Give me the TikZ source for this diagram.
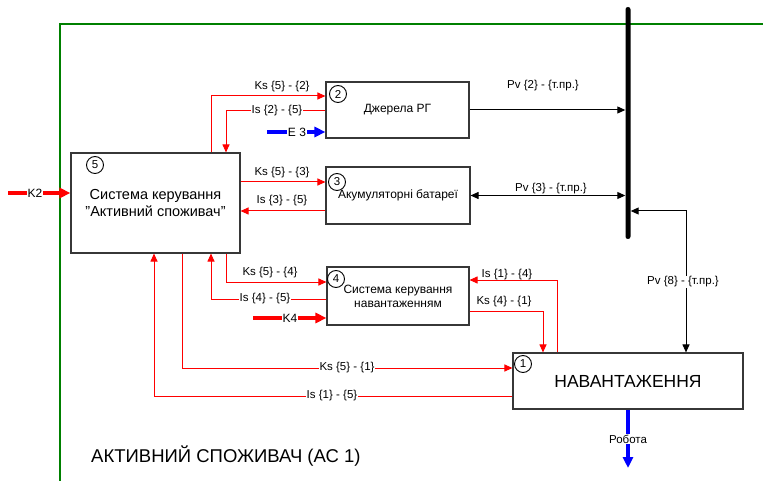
\documentclass[tikz,border=0pt]{standalone}
\usepackage{fontspec}
\setmainfont{Liberation Sans}
\usetikzlibrary{arrows.meta}
\definecolor{frameg}{RGB}{0,128,0}
\definecolor{boxc}{RGB}{55,55,55}
\begin{document}
\begin{tikzpicture}[x=1pt,y=-1pt,
  box/.style={draw=boxc, line width=1.1pt, inner sep=0pt, align=center, font=\fontsize{12}{14}\selectfont},
  num/.style={draw=black, circle, line width=0.9pt, minimum size=17pt, inner sep=0pt, font=\fontsize{11.5}{12}\selectfont},
  tipa/.style={-{Triangle[length=8pt,width=7pt]}},
  sig/.style={draw=red, line width=1pt},
  pw/.style={draw=black, line width=1pt},
  heavyred/.style={draw=red, line width=3.5pt, -{Triangle[length=11pt,width=10pt]}},
  heavyblue/.style={draw=blue, line width=3.5pt, -{Triangle[length=11pt,width=10pt]}},
  lab/.style={font=\fontsize{11.5}{13}\selectfont, inner sep=1pt},
  onl/.style={lab, fill=white}
]
\useasboundingbox (0,0) rectangle (763,481);
% frame
\draw[frameg, line width=2pt] (60,481) -- (60,24) -- (763,24);
% bus
\node[fill=black, minimum width=5pt, minimum height=232pt, inner sep=0pt, rounded corners=2.4pt] (bus) at (628,123) {};
% boxes
\node[box, minimum width=169pt, minimum height=100pt, font=\fontsize{14.5}{17}\selectfont] (b5) at (155.5,203) {Система керування\\"Активний споживач"};
\node[box, minimum width=143pt, minimum height=56pt] (b2) at (397.5,110) {Джерела РГ};
\node[box, minimum width=144pt, minimum height=57pt] (b3) at (398,195.5) {Акумуляторні батареї};
\node[box, minimum width=142pt, minimum height=58pt] (b4) at (398,296) {Система керування\\навантаженням};
\node[box, minimum width=230pt, minimum height=56pt, font=\fontsize{17.5}{20}\selectfont] (b1) at (628,381) {НАВАНТАЖЕННЯ};
% numbers
\node[num] (n5) at (95,165) {5};
\node[num] (n2) at (338,94) {2};
\node[num] (n3) at (337,182) {3};
\node[num] (n4) at (336,279) {4};
\node[num] (n1) at (523,364) {1};
% bend coordinates
\coordinate (k52) at (211,96);
\coordinate (i25) at (226,111);
\coordinate (k53) at (282,182);
\coordinate (i35) at (282,211);
\coordinate (k54) at (226,282);
\coordinate (i45) at (211,299);
\coordinate (k51) at (182,368);
\coordinate (i15) at (154,396);
\coordinate (i14) at (557,280);
\coordinate (k41) at (543,311);
\coordinate (c8) at (686,211);
\coordinate (k2) at (8,193);
\coordinate (e3) at (267,132);
\coordinate (k4) at (253,318);
\coordinate (rob) at (628,468);
% red signal connectors
\draw[sig,tipa] (k52 |- b5.north) |- (k52 -| b2.west);
\draw[sig,tipa] (i25 -| b2.west) -| (i25 |- b5.north);
\draw[sig,tipa] (k53 -| b5.east) -- (k53 -| b3.west);
\draw[sig,tipa] (i35 -| b3.west) -- (i35 -| b5.east);
\draw[sig,tipa] (k54 |- b5.south) |- (k54 -| b4.west);
\draw[sig,tipa] (i45 -| b4.west) -| (i45 |- b5.south);
\draw[sig,tipa] (k51 |- b5.south) |- (k51 -| b1.west);
\draw[sig,tipa] (i15 -| b1.west) -| (i15 |- b5.south);
\draw[sig,tipa] (i14 |- b1.north) |- (i14 -| b4.east);
\draw[sig,tipa] (k41 -| b4.east) -| (k41 |- b1.north);
% heavy inputs/outputs
\draw[heavyred] (k2) -- (k2 -| b5.west);
\draw[heavyblue] (e3) -- (e3 -| b2.west);
\draw[heavyred] (k4) -- (k4 -| b4.west);
\draw[heavyblue] (rob |- b1.south) -- (rob);
% power connectors
\draw[pw,tipa] (b2.east) -- (b2.east -| bus.west);
\draw[pw,{Triangle[length=8pt,width=7pt]}-{Triangle[length=8pt,width=7pt]}] (b3.east) -- (b3.east -| bus.west);
\draw[pw,{Triangle[length=8pt,width=7pt]}-{Triangle[length=8pt,width=7pt]}] (c8 -| bus.east) -| (c8 |- b1.north);
% labels
\node[lab] (l52) at (282,87) {Ks \{5\} - \{2\}};
\node[onl] (l25) at (277,111) {Is \{2\} - \{5\}};
\node[onl, font=\fontsize{12}{14}\selectfont] (le3) at (297,132) {E 3};
\node[lab] (l53) at (282,173) {Ks \{5\} - \{3\}};
\node[lab] (l35) at (282,201) {Is \{3\} - \{5\}};
\node[lab] (l54) at (270,273) {Ks \{5\} - \{4\}};
\node[onl] (l45) at (265,299) {Is \{4\} - \{5\}};
\node[onl, font=\fontsize{12}{14}\selectfont] (lk4) at (290,318) {K4};
\node[lab] (l14) at (507,275) {Is \{1\} - \{4\}};
\node[lab] (l41) at (504,302) {Ks \{4\} - \{1\}};
\node[onl] (l51) at (347,368) {Ks \{5\} - \{1\}};
\node[onl] (l15) at (332,396) {Is \{1\} - \{5\}};
\node[onl, font=\fontsize{12}{14}\selectfont] (lk2) at (35,193) {K2};
\node[lab] (lp2) at (543,86) {Pv \{2\} - \{т.пр.\}};
\node[lab] (lp3) at (551,189) {Pv \{3\} - \{т.пр.\}};
\node[onl] (lp8) at (683,282) {Pv \{8\} - \{т.пр.\}};
\node[onl] (lrob) at (628,439) {Робота};
\node[anchor=west, font=\fontsize{18.5}{21}\selectfont, inner sep=0pt] (title) at (91,456) {АКТИВНИЙ СПОЖИВАЧ (АС 1)};
\end{tikzpicture}
\end{document}
